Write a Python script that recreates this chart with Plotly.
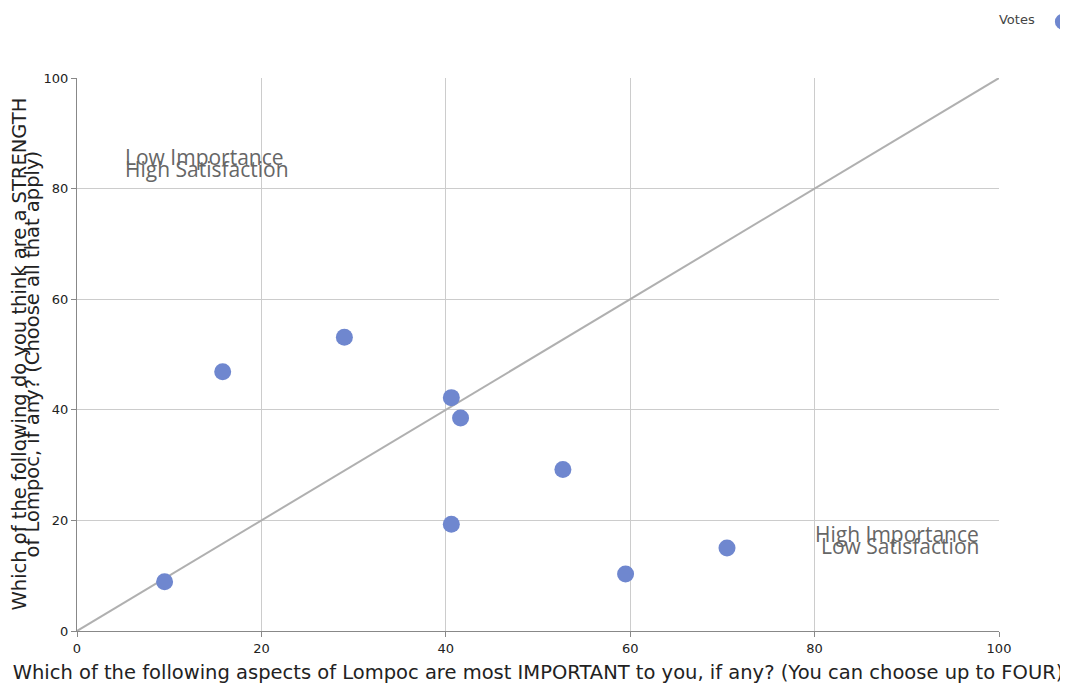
import plotly.graph_objects as go

importance = [9.5, 15.8, 29.0, 40.6, 41.6, 40.6, 52.7, 59.5, 70.5]
strength = [8.9, 46.9, 53.1, 42.2, 38.5, 19.3, 29.2, 10.3, 15.0]
diag_x = [0, 100]
diag_y = [0, 100]
x_title = "Which of the following aspects of Lompoc are most IMPORTANT to you, if any? (You can choose up to FOUR)"
y_title_lines = ["Which of the following do you think are a STRENGTH",
                 "of Lompoc, if any? (Choose all that apply)"]
tl_lines = ["Low Importance", "High Satisfaction"]
br_lines = ["High Importance", "Low Satisfaction"]

fig = go.Figure()
fig.add_trace(go.Scatter(x=diag_x, y=diag_y, mode="lines",
                         line=dict(color="#b0b0b0", width=2),
                         showlegend=False, hoverinfo="skip"))
fig.add_trace(go.Scatter(x=importance, y=strength, mode="markers", name="",
                         marker=dict(size=17, color="#6f87cf"),
                         showlegend=True))

ann_font = dict(family="Open Sans, sans-serif", size=21, color="#666666")
title_font = dict(family="DejaVu Sans", size=19.5, color="#222222")
annotations = [
    dict(x=5, y=85.7, xref="x", yref="y", text=tl_lines[0], showarrow=False,
         xanchor="left", yanchor="middle", font=ann_font),
    dict(x=5, y=83.6, xref="x", yref="y", text=tl_lines[1], showarrow=False,
         xanchor="left", yanchor="middle", font=ann_font),
    dict(x=98, y=17.6, xref="x", yref="y", text=br_lines[0], showarrow=False,
         xanchor="right", yanchor="middle", font=ann_font),
    dict(x=98, y=15.4, xref="x", yref="y", text=br_lines[1], showarrow=False,
         xanchor="right", yanchor="middle", font=ann_font),
    dict(x=0, y=0.5, xref="paper", yref="paper", text=y_title_lines[0], showarrow=False,
         textangle=-90, xanchor="center", yanchor="middle", xshift=-58,
         font=title_font),
    dict(x=0, y=0.5, xref="paper", yref="paper", text=y_title_lines[1], showarrow=False,
         textangle=-90, xanchor="center", yanchor="middle", xshift=-45,
         font=title_font),
]

axis_common = dict(
    range=[0, 100], dtick=20, showgrid=True, gridcolor="#cccccc", gridwidth=1,
    showline=True, linecolor="#888888", linewidth=1, ticks="outside", ticklen=5,
    tickcolor="#888888", zeroline=False, mirror=False,
    tickfont=dict(family="DejaVu Sans", size=13, color="#222222"),
)

fig.update_layout(
    width=1060, height=678,
    margin=dict(l=69, r=69, t=70, b=55, autoexpand=False),
    plot_bgcolor="white", paper_bgcolor="white",
    xaxis=dict(**axis_common,
               title=dict(text=x_title, standoff=10, font=title_font)),
    yaxis=dict(**axis_common),
    annotations=annotations,
    legend=dict(x=1.0965, y=1.128, xanchor="right", yanchor="top",
                title=dict(text="Votes", side="left",
                           font=dict(family="DejaVu Sans", size=13, color="#444444")),
                bgcolor="rgba(0,0,0,0)", itemwidth=30),
)

fig.write_html("out.html")
